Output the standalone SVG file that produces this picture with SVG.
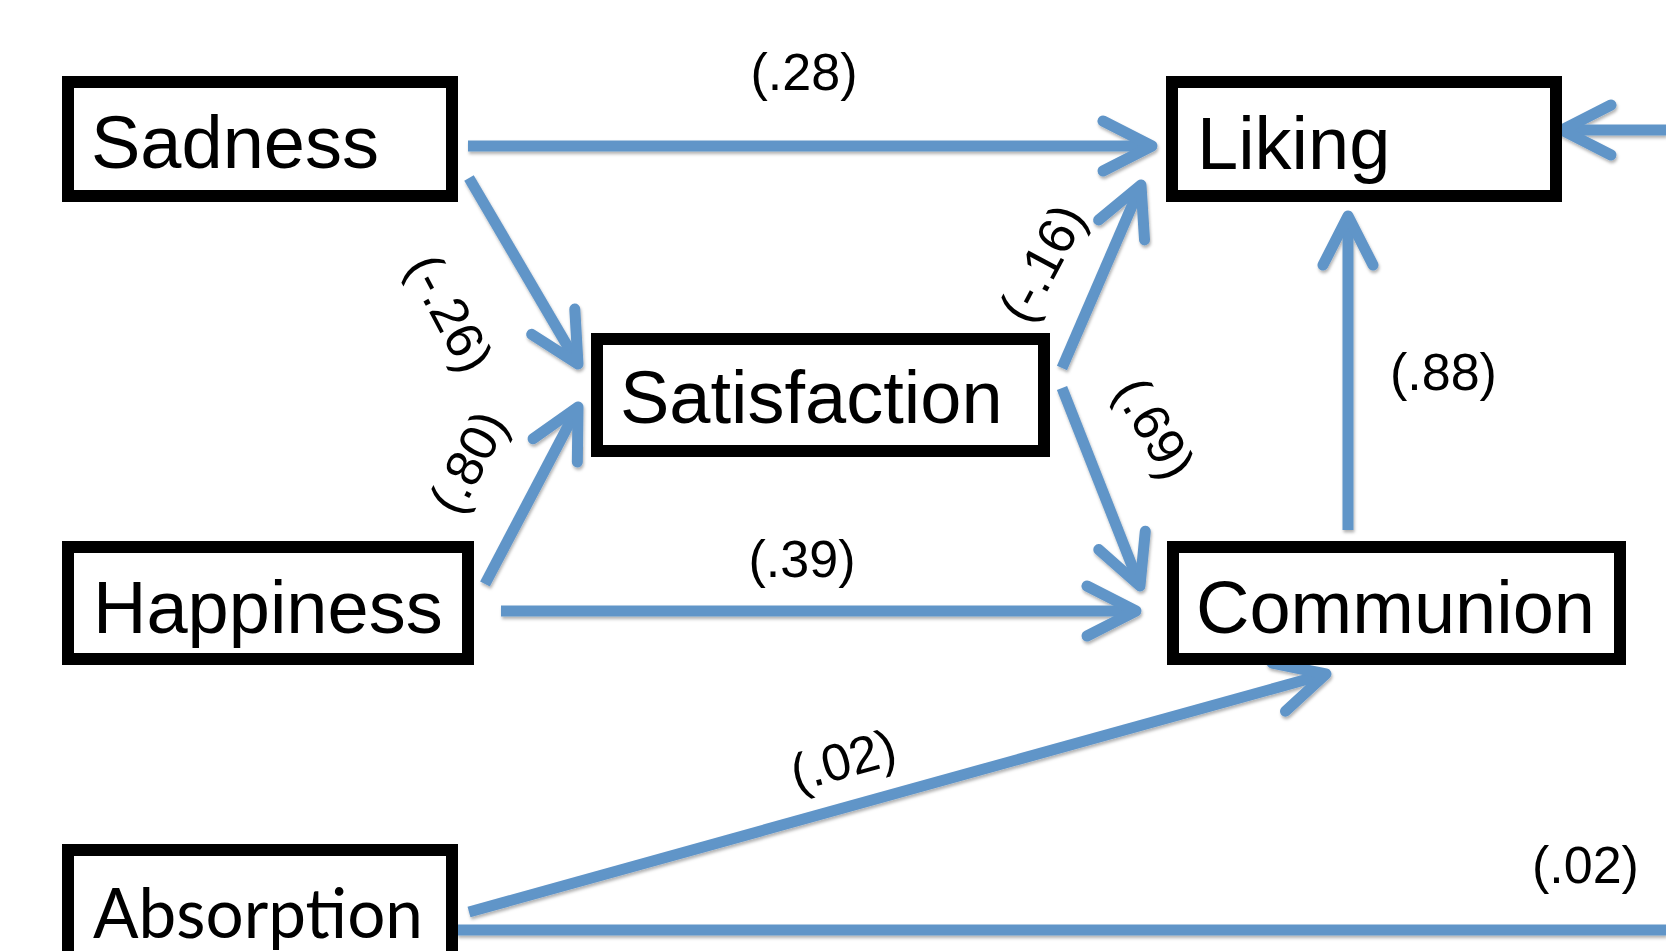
<svg xmlns="http://www.w3.org/2000/svg" width="1666" height="951" viewBox="0 0 1666 951">
<style>
.box{fill:#fff;stroke:#000;stroke-width:12}
.lbl{font-family:"Liberation Sans",Arial,sans-serif;font-size:74px;fill:#000}
.num{font-family:"Liberation Sans",Arial,sans-serif;font-size:52px;fill:#000}
.c{fill:none;stroke:#6195C8;stroke-width:11;stroke-linecap:butt}
.a{marker-end:url(#ah)}
</style>
<defs>
<marker id="ah" markerUnits="userSpaceOnUse" orient="auto" viewBox="-60 -40 80 80" refX="0" refY="0" markerWidth="80" markerHeight="80" overflow="visible">
<path d="M-49,-25 L0,0 L-49,25" fill="none" stroke="#6195C8" stroke-width="11" stroke-linecap="round" stroke-linejoin="round"/>
</marker>
<filter id="sh" filterUnits="userSpaceOnUse" x="0" y="0" width="1666" height="951">
<feDropShadow dx="1" dy="2.5" stdDeviation="1.5" flood-color="#000" flood-opacity="0.3"/>
</filter>
</defs>
<rect width="1666" height="951" fill="#fff"/>
<g id="connectors" filter="url(#sh)">
<line class="c a" x1="468" y1="146" x2="1152" y2="146"/>
<line class="c a" x1="469" y1="178" x2="578" y2="364"/>
<line class="c a" x1="485" y1="584" x2="578" y2="407"/>
<line class="c a" x1="1062" y1="368" x2="1141" y2="185"/>
<line class="c a" x1="1062" y1="388" x2="1140" y2="586"/>
<line class="c a" x1="501" y1="611" x2="1136" y2="611"/>
<line class="c a" x1="1348" y1="530" x2="1348" y2="216"/>
<line class="c a" x1="469" y1="912" x2="1326" y2="674"/>
<line class="c" x1="457" y1="930" x2="1666" y2="930"/>
<line class="c a" x1="1666" y1="130" x2="1562" y2="130"/>
</g>
<g id="labels">
<text class="num" x="804" y="90" text-anchor="middle">(.28)</text>
<text class="num" x="802" y="577" text-anchor="middle">(.39)</text>
<text class="num" x="1390" y="390">(.88)</text>
<text class="num" x="1532" y="883">(.02)</text>
<text class="num" transform="translate(450,313) rotate(62)" x="0" y="18" text-anchor="middle">(-.26)</text>
<text class="num" transform="translate(468,462) rotate(-62)" x="0" y="18" text-anchor="middle">(.80)</text>
<text class="num" transform="translate(1042,263) rotate(-62)" x="0" y="18" text-anchor="middle">(-.16)</text>
<text class="num" transform="translate(1155,428) rotate(60)" x="0" y="18" text-anchor="middle">(.69)</text>
<text class="num" transform="translate(843,760) rotate(-15.6)" x="0" y="18" text-anchor="middle">(.02)</text>
</g>
<g id="sadness">
<rect class="box" x="68" y="82" width="384" height="114"/>
<text class="lbl" x="91" y="168">Sadness</text>
</g>
<g id="liking">
<rect class="box" x="1172" y="82" width="384" height="114"/>
<text class="lbl" x="1197" y="169">Liking</text>
</g>
<g id="satisfaction">
<rect class="box" x="597" y="339" width="447" height="112"/>
<text class="lbl" x="620" y="423">Satisfaction</text>
</g>
<g id="happiness">
<rect class="box" x="68" y="547" width="400" height="112"/>
<text class="lbl" x="93" y="633">Happiness</text>
</g>
<g id="communion">
<rect class="box" x="1173" y="547" width="447" height="112"/>
<text class="lbl" x="1196" y="633">Communion</text>
</g>
<g id="absorption">
<rect class="box" x="68" y="850" width="384" height="130"/>
<text x="93" y="938" font-family="Lato,'Open Sans',sans-serif" font-size="70" textLength="330" lengthAdjust="spacingAndGlyphs" fill="#000">Absorption</text>
</g>
</svg>
